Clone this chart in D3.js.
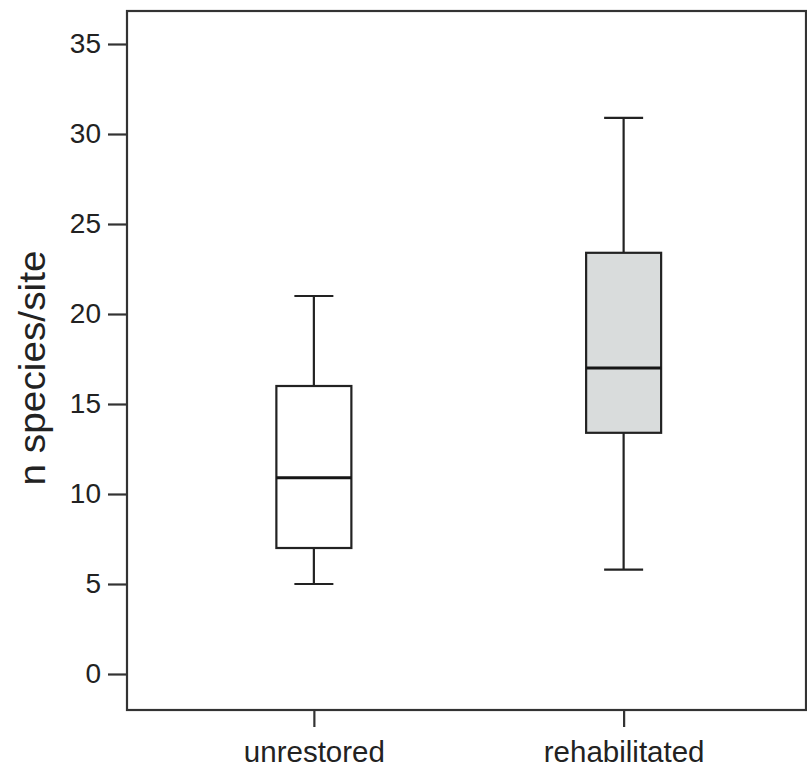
<!DOCTYPE html>
<html>
<head>
<meta charset="utf-8">
<script src="https://cdn.jsdelivr.net/npm/d3@7"></script>
<style>
  body { margin: 0; background: #fff; }
  text { font-family: "Liberation Sans", Arial, sans-serif; fill: #222; }
</style>
</head>
<body>
<script>
// data
var groups = ["unrestored", "rehabilitated"];
var whiskerLow = [5, 5.8];
var q1 = [7, 13.4];
var median = [10.9, 17];
var q3 = [16, 23.4];
var whiskerHigh = [21, 30.9];
var yTicks = [0, 5, 10, 15, 20, 25, 30, 35];
var boxFill = ["#ffffff", "#d9dcdc"];

var width = 807, height = 771;
var mLeft = 127, mRight = 806, mTop = 11, mBottom = 710;

var svg = d3.select("body").append("svg")
    .attr("width", width)
    .attr("height", height);

var y = d3.scaleLinear().domain([0, 35]).range([674, 44]);
var x = d3.scalePoint().domain(groups).range([mLeft + 3.5, mRight + 1]).padding(0.592);

// frame
svg.append("rect")
    .attr("x", mLeft).attr("y", mTop)
    .attr("width", mRight - mLeft).attr("height", mBottom - mTop)
    .attr("fill", "none")
    .attr("stroke", "#333")
    .attr("stroke-width", 2.2);

// y axis
var yAxis = svg.append("g")
    .attr("transform", "translate(" + mLeft + ",0)")
    .call(d3.axisLeft(y).tickValues(yTicks).tickSize(19).tickPadding(7));
yAxis.select(".domain").remove();
yAxis.selectAll(".tick line").attr("stroke", "#333").attr("stroke-width", 2.2);
yAxis.selectAll(".tick text")
    .attr("font-size", 28)
    .attr("fill", "#1e1e1e")
    .style("font-family", "'Liberation Sans', Arial, sans-serif");

// x axis
var xAxis = svg.append("g")
    .attr("transform", "translate(0," + mBottom + ")")
    .call(d3.axisBottom(x).tickSize(17).tickPadding(14));
xAxis.select(".domain").remove();
xAxis.selectAll(".tick line").attr("stroke", "#333").attr("stroke-width", 2.2);
xAxis.selectAll(".tick text")
    .attr("font-size", 29.5)
    .attr("fill", "#1e1e1e")
    .style("font-family", "'Liberation Sans', Arial, sans-serif");

// y label
svg.append("text")
    .attr("transform", "translate(45,368) rotate(-90)")
    .attr("text-anchor", "middle")
    .attr("font-size", 36)
    .attr("textLength", 235)
    .attr("lengthAdjust", "spacingAndGlyphs")
    .text("n species/site");

var boxW = 75, capW = 39;
var boxes = svg.selectAll(".box")
    .data(groups)
    .enter().append("g")
    .attr("class", "box")
    .attr("transform", function(d) { return "translate(" + x(d) + ",0)"; });

// whiskers
boxes.append("line")
    .attr("x1", 0).attr("x2", 0)
    .attr("y1", function(d, i) { return y(whiskerHigh[i]); })
    .attr("y2", function(d, i) { return y(whiskerLow[i]); })
    .attr("stroke", "#222").attr("stroke-width", 2.2);

boxes.append("line")
    .attr("x1", -capW / 2).attr("x2", capW / 2)
    .attr("y1", function(d, i) { return y(whiskerHigh[i]); })
    .attr("y2", function(d, i) { return y(whiskerHigh[i]); })
    .attr("stroke", "#222").attr("stroke-width", 2.2);

boxes.append("line")
    .attr("x1", -capW / 2).attr("x2", capW / 2)
    .attr("y1", function(d, i) { return y(whiskerLow[i]); })
    .attr("y2", function(d, i) { return y(whiskerLow[i]); })
    .attr("stroke", "#222").attr("stroke-width", 2.2);

// box
boxes.append("rect")
    .attr("x", -boxW / 2)
    .attr("width", boxW)
    .attr("y", function(d, i) { return y(q3[i]); })
    .attr("height", function(d, i) { return y(q1[i]) - y(q3[i]); })
    .attr("fill", function(d, i) { return boxFill[i]; })
    .attr("stroke", "#222").attr("stroke-width", 2.2);

// median
boxes.append("line")
    .attr("x1", -boxW / 2).attr("x2", boxW / 2)
    .attr("y1", function(d, i) { return y(median[i]); })
    .attr("y2", function(d, i) { return y(median[i]); })
    .attr("stroke", "#151515").attr("stroke-width", 3);
</script>
</body>
</html>
